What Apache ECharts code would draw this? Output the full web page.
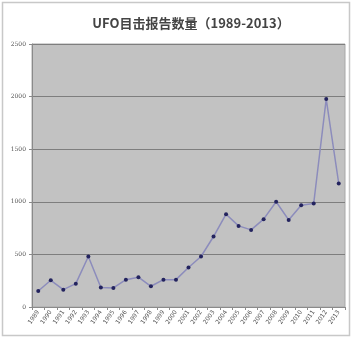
<!DOCTYPE html>
<html><head><meta charset="utf-8">
<script src="https://cdn.jsdelivr.net/npm/echarts@6/dist/echarts.min.js"></script>
<style>html,body{margin:0;padding:0;background:#fff}#c{width:353px;height:338px}</style>
</head><body><div id="c"></div>
<script>
const titleText = 'UFO目击报告数量（1989-2013）';
const years = ['1989','1990','1991','1992','1993','1994','1995','1996','1997','1998','1999','2000','2001','2002','2003','2004','2005','2006','2007','2008','2009','2010','2011','2012','2013'];
const reports = [152,254,165,222,480,185,181,260,283,197,260,260,375,480,670,882,771,733,835,1000,828,968,984,1977,1174];
const yTicks = [0,500,1000,1500,2000,2500];

const chart = echarts.init(document.getElementById('c'), null, {renderer:'canvas'});
chart.setOption({
  animation:false,
  backgroundColor:'#fff',
  graphic:[{type:'rect',shape:{x:2.5,y:2.5,width:347,height:333},style:{fill:'none',stroke:'#c8c8c8',lineWidth:1.5},silent:true,z:-1}],
  title:{text:titleText,left:186,textAlign:'center',top:12,textStyle:{fontFamily:'Noto Sans CJK SC',fontSize:13,fontWeight:'bold',color:'#444'}},
  grid:{left:32,right:8,top:44,bottom:31,show:true,backgroundColor:'#c2c2c2',borderColor:'#a8a8a8',borderWidth:1},
  xAxis:{type:'category',data:years,boundaryGap:true,
    axisLine:{lineStyle:{color:'#8a8a8a'}},
    axisTick:{show:true,length:3,lineStyle:{color:'#8a8a8a'}},
    axisLabel:{rotate:55,fontSize:6,color:'#555',margin:4,interval:0,fontFamily:'DejaVu Sans'}},
  yAxis:{type:'value',min:yTicks[0],max:yTicks[yTicks.length-1],interval:500,
    axisLine:{show:true,lineStyle:{color:'#8a8a8a'}},
    axisTick:{show:true,length:3,lineStyle:{color:'#8a8a8a'}},
    axisLabel:{fontSize:6,color:'#555',margin:6,fontFamily:'DejaVu Serif',formatter:v=>String(v)},
    splitLine:{lineStyle:{color:'#7e7e7e',width:1.2}}},
  series:[{type:'line',data:reports,symbol:'circle',symbolSize:4,
    lineStyle:{color:'#8c8cbc',width:1.5},
    itemStyle:{color:'#23235e',borderWidth:0}}]
});
</script></body></html>
